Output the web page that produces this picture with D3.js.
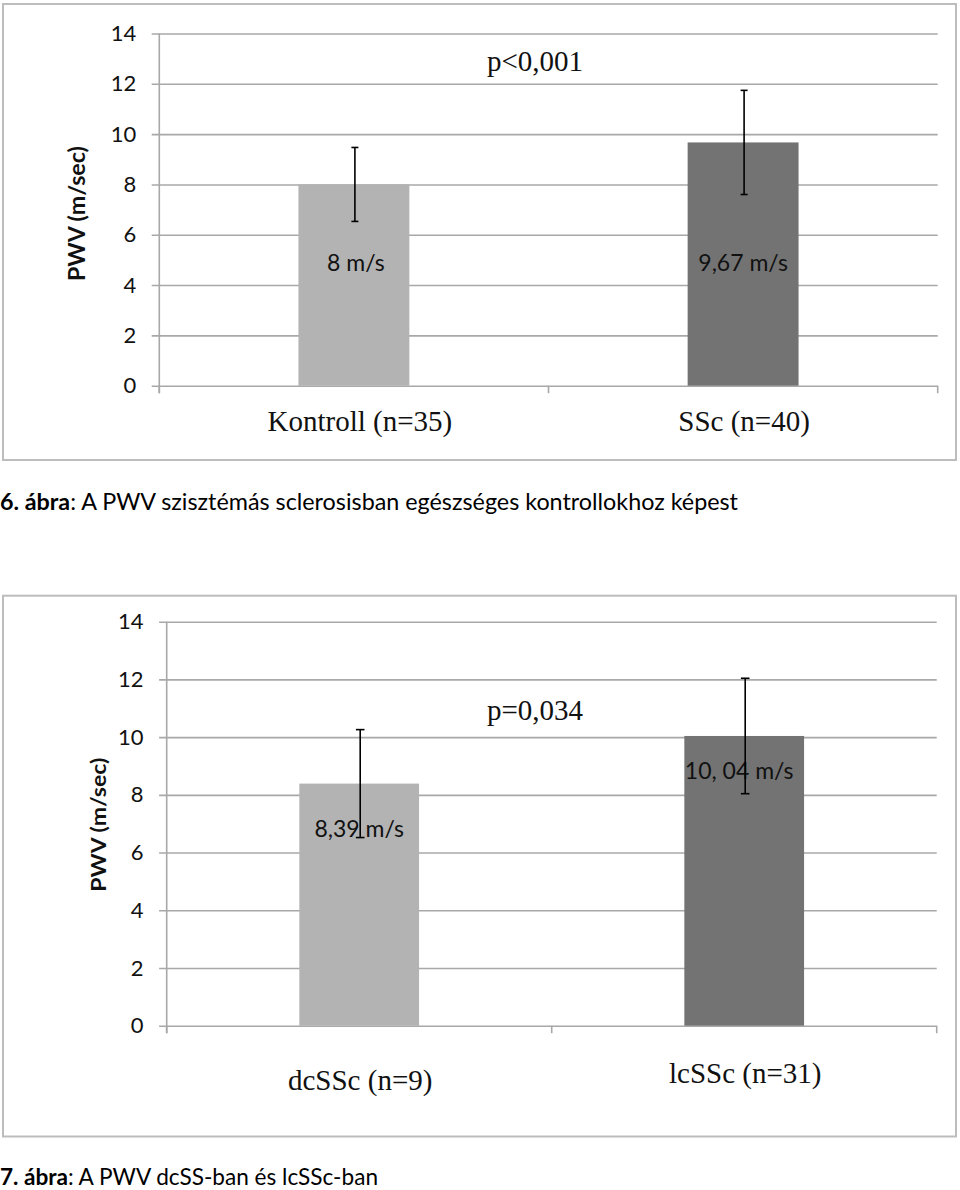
<!DOCTYPE html>
<html>
<head>
<meta charset="utf-8">
<script src="https://cdn.jsdelivr.net/npm/d3@7"></script>
<style>
  html, body { margin: 0; padding: 0; background: #fff; }
  svg { display: block; }
</style>
</head>
<body>
<svg id="chart" width="960" height="1190"></svg>
<script>
// ---------- DATA ----------
const yTicks = [0, 2, 4, 6, 8, 10, 12, 14];

const categories1 = ["Kontroll (n=35)", "SSc (n=40)"];
const means1 = [8, 9.67];
const errors1 = [1.47, 2.07];
const valueLabels1 = ["8 m/s", "9,67 m/s"];
const pLabel1 = "p<0,001";

const categories2 = ["dcSSc (n=9)", "lcSSc (n=31)"];
const means2 = [8.39, 10.04];
const errors2 = [1.87, 2.0];
const valueLabels2 = ["8,39 m/s", "10, 04 m/s"];
const pLabel2 = "p=0,034";

const barColors = ["#b3b3b3", "#737373"];
const yTitle = "PWV (m/sec)";
const caption1Bold = "6. ábra";
const caption1Rest = ": A PWV szisztémás sclerosisban egészséges kontrollokhoz képest";
const caption2Bold = "7. ábra";
const caption2Rest = ": A PWV dcSS-ban és lcSSc-ban";

// ---------- LAYOUT ----------
const svg = d3.select("#chart");
const SANS = "Lato, 'Open Sans', sans-serif";
const SERIF = "'Liberation Serif', 'Times New Roman', serif";

function drawChart(cfg) {
  const g = svg.append("g");
  // frame
  g.append("rect")
    .attr("x", cfg.frame[0]).attr("y", cfg.frame[1])
    .attr("width", cfg.frame[2] - cfg.frame[0]).attr("height", cfg.frame[3] - cfg.frame[1])
    .attr("fill", "#fff").attr("stroke", "#bdbdbd").attr("stroke-width", 2);

  const y = d3.scaleLinear().domain([0, 14]).range([cfg.bottom, cfg.top]);
  const x = d3.scaleBand().domain(cfg.categories)
    .range([cfg.left, cfg.right])
    .paddingInner(cfg.pad).paddingOuter(cfg.pad / 2);

  // gridlines + tick labels
  const tickLen = 7.6;
  const grid = g.append("g")
    .attr("transform", `translate(${cfg.left - tickLen},0)`)
    .call(d3.axisLeft(y).tickValues(yTicks)
      .tickSize(-(cfg.right - cfg.left + tickLen))
      .tickPadding(15.5));
  grid.select(".domain").remove();
  grid.selectAll(".tick line").attr("stroke", "#a8a8a8").attr("stroke-width", 1.6);
  grid.selectAll(".tick text")
    .attr("font-family", SANS).attr("font-size", 22).attr("fill", "#111");

  // y-axis line
  g.append("line")
    .attr("x1", cfg.left).attr("x2", cfg.left)
    .attr("y1", cfg.top).attr("y2", cfg.bottom + 7.5)
    .attr("stroke", "#a8a8a8").attr("stroke-width", 1.6);

  // x ticks at band boundaries
  const bounds = cfg.categories.map(c => x(c) - x.step() * x.paddingOuter()).concat([cfg.right]);
  g.selectAll(".xt").data(bounds).enter().append("line")
    .attr("x1", d => d).attr("x2", d => d)
    .attr("y1", cfg.bottom).attr("y2", cfg.bottom + 7.5)
    .attr("stroke", "#a8a8a8").attr("stroke-width", 1.6);

  // bars
  g.selectAll(".bar").data(cfg.means).enter().append("rect")
    .attr("x", (d, i) => x(cfg.categories[i]))
    .attr("y", d => y(d))
    .attr("width", x.bandwidth())
    .attr("height", d => y(0) - y(d))
    .attr("fill", (d, i) => barColors[i]);

  // value labels
  g.selectAll(".vl").data(cfg.valueLabels).enter().append("text")
    .attr("x", (d, i) => x(cfg.categories[i]) + x.bandwidth() / 2 + cfg.labelDx[i])
    .attr("y", (d, i) => cfg.labelY[i])
    .attr("text-anchor", "middle")
    .attr("font-family", SANS).attr("font-size", 23).attr("fill", "#111")
    .text(d => d);

  // error bars
  const eb = g.selectAll(".eb").data(cfg.means).enter().append("g")
    .attr("stroke", "#000").attr("stroke-width", 1.6);
  eb.append("line")
    .attr("x1", (d, i) => x(cfg.categories[i]) + x.bandwidth() / 2 + 1)
    .attr("x2", (d, i) => x(cfg.categories[i]) + x.bandwidth() / 2 + 1)
    .attr("y1", (d, i) => y(d + cfg.errors[i]))
    .attr("y2", (d, i) => y(d - cfg.errors[i]));
  [1, -1].forEach(s => {
    eb.append("line")
      .attr("x1", (d, i) => x(cfg.categories[i]) + x.bandwidth() / 2 + 1 - cfg.cap)
      .attr("x2", (d, i) => x(cfg.categories[i]) + x.bandwidth() / 2 + 1 + cfg.cap)
      .attr("y1", (d, i) => y(d + s * cfg.errors[i]))
      .attr("y2", (d, i) => y(d + s * cfg.errors[i]));
  });

  // category labels
  g.selectAll(".cl").data(cfg.categories).enter().append("text")
    .attr("x", (d, i) => x(d) + x.bandwidth() / 2 + cfg.catDx[i])
    .attr("y", (d, i) => cfg.catY[i])
    .attr("text-anchor", "middle")
    .attr("font-family", SERIF).attr("font-size", 29).attr("fill", "#111")
    .text(d => d);

  // p label
  g.append("text")
    .attr("x", cfg.pPos[0]).attr("y", cfg.pPos[1])
    .attr("font-family", SERIF).attr("font-size", 29).attr("fill", "#111")
    .text(cfg.pLabel);

  // y title
  g.append("text")
    .attr("transform", `translate(${cfg.titleX},${(cfg.top + cfg.bottom) / 2 + cfg.titleDy}) rotate(-90)`)
    .attr("text-anchor", "middle")
    .attr("dy", "0.35em")
    .attr("font-family", SANS).attr("font-weight", 700)
    .attr("font-size", cfg.titleSize).attr("fill", "#111")
    .attr("textLength", cfg.titleLen).attr("lengthAdjust", "spacingAndGlyphs")
    .text(yTitle);
}

drawChart({
  frame: [3, 4, 956, 460],
  left: 159.3, right: 937.7, top: 33.5, bottom: 385.7,
  pad: 0.715,
  categories: categories1, means: means1, errors: errors1,
  valueLabels: valueLabels1, labelY: [271, 271], labelDx: [2, 0],
  cap: 3.5,
  catY: [431, 431], catDx: [6, 1],
  pPos: [487, 71], pLabel: pLabel1,
  titleX: 77, titleDy: 4, titleSize: 23.5, titleLen: 135
});

drawChart({
  frame: [3, 595.7, 956, 1136.5],
  left: 166.7, right: 936.7, top: 621.7, bottom: 1025.7,
  pad: 0.689,
  categories: categories2, means: means2, errors: errors2,
  valueLabels: valueLabels2, labelY: [836.5, 779], labelDx: [0, -5],
  cap: 4.3,
  catY: [1090, 1083], catDx: [1, 1],
  pPos: [487, 720], pLabel: pLabel2,
  titleX: 98.5, titleDy: 1, titleSize: 21, titleLen: 134
});

// captions
function caption(bold, rest, yPos, len) {
  const t = svg.append("text")
    .attr("x", 0).attr("y", yPos)
    .attr("font-family", SANS).attr("font-size", 22.5).attr("fill", "#000")
    .attr("textLength", len).attr("lengthAdjust", "spacingAndGlyphs");
  t.append("tspan").attr("font-weight", 700).text(bold);
  t.append("tspan").text(rest);
}
caption(caption1Bold, caption1Rest, 510, 738);
caption(caption2Bold, caption2Rest, 1185, 378);
</script>
</body>
</html>
